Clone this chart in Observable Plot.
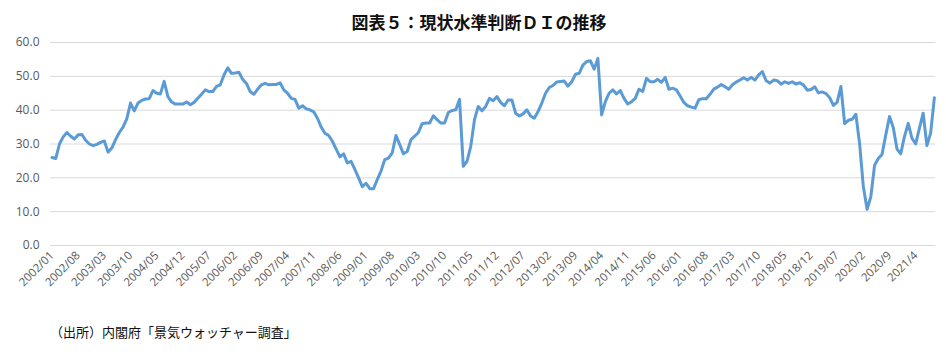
<!DOCTYPE html>
<html>
<head>
<meta charset="utf-8">
<script src="https://cdn.jsdelivr.net/npm/d3@7"></script>
<script src="https://cdn.jsdelivr.net/npm/@observablehq/plot@0.6"></script>
<style>
  html, body { margin: 0; padding: 0; background: #fff; }
  #wrap { width: 946px; height: 356px; position: relative; overflow: hidden; }
  #title { height: 32px; line-height: 44px; text-align: center; font-family: "Noto Sans CJK JP", sans-serif; font-weight: bold; font-size: 17px; color: #111; padding-left: 12px; }
  #caption { position: absolute; left: 50px; top: 322px; font-family: "Noto Sans CJK JP", sans-serif; font-size: 13px; color: #111; }
  svg { display: block; }
</style>
</head>
<body>
<div id="wrap">
  <div id="title">図表５：現状水準判断ＤＩの推移</div>
  <div id="chart"></div>
  <div id="caption">（出所）内閣府「景気ウォッチャー調査」</div>
</div>
<script>
// Monthly 現状水準判断DI, 2002/01 – 2021/09
const di = [
  26.0,25.7,30.0,32.1,33.4,32.3,31.5,32.7,32.8,31.1,30.0,29.5,
  29.9,30.5,30.9,27.6,28.8,31.3,33.4,35.0,37.4,42.1,39.8,42.1,
  42.9,43.3,43.4,45.8,45.0,44.8,48.5,44.0,42.4,41.8,41.8,41.8,
  42.4,41.6,42.3,43.5,44.7,46.0,45.5,45.5,47.0,47.5,50.4,52.5,
  50.9,51.0,51.2,49.1,47.9,45.5,44.7,46.2,47.5,47.9,47.5,47.6,
  47.6,48.1,46.0,45.0,43.5,43.2,40.6,41.3,40.4,40.1,39.5,37.6,
  35.0,33.2,32.5,30.8,28.5,26.2,27.1,24.4,24.9,22.5,20.0,17.4,
  18.4,16.8,16.8,19.5,22.0,25.4,25.8,27.4,32.5,29.8,27.1,27.8,
  31.3,32.3,33.4,36.0,36.2,36.2,38.3,37.2,36.2,36.2,39.3,39.9,
  40.1,43.2,23.4,24.9,29.3,37.2,41.1,39.8,41.1,43.5,42.8,44.0,
  42.3,41.3,43.0,43.0,39.1,38.3,38.9,40.1,38.3,37.6,39.6,42.1,
  45.0,46.7,47.3,48.3,48.5,48.6,47.1,48.4,50.6,50.9,53.3,54.4,
  54.6,52.1,55.3,38.6,42.5,45.0,46.0,44.8,45.8,43.5,41.8,42.5,
  43.5,46.2,45.5,49.4,48.4,48.4,49.1,48.2,49.7,46.2,46.5,46.0,
  44.2,42.3,41.3,40.9,40.6,43.1,43.4,43.4,44.7,46.2,46.8,47.6,
  46.9,46.2,47.5,48.3,48.9,49.6,48.9,49.7,48.9,50.4,51.4,48.7,
  48.0,48.9,48.7,47.7,48.4,47.9,48.4,47.7,48.1,47.4,45.9,46.1,
  46.9,45.1,45.4,44.9,43.7,41.4,42.4,47.0,36.0,37.0,37.3,38.8,
  30.1,17.4,10.7,14.4,23.7,25.7,26.9,32.7,38.1,34.9,28.5,27.1,
  32.2,36.1,31.7,30.0,34.7,39.1,29.5,33.2,43.7
];
// category labels shown on the axis (every 7th month)
const tickLabels = [
  "2002/01","2002/08","2003/03","2003/10","2004/05","2004/12","2005/07",
  "2006/02","2006/09","2007/04","2007/11","2008/06","2009/01","2009/08",
  "2010/03","2010/10","2011/05","2011/12","2012/07","2013/02","2013/09",
  "2014/04","2014/11","2015/06","2016/01","2016/08","2017/03","2017/10",
  "2018/05","2018/12","2019/07","2020/2","2020/9","2021/4"
];
const tickStep = 7;
const yTicks = [0, 10, 20, 30, 40, 50, 60];

const rows = di.map((v, i) => ({i, v}));
const tickIdx = tickLabels.map((_, k) => k * tickStep);

const chart = Plot.plot({
  width: 946,
  height: 270,
  marginTop: 10,
  marginBottom: 57,
  marginLeft: 50,
  marginRight: 11,
  style: {fontFamily: "'Open Sans', 'Noto Sans', sans-serif", background: "transparent"},
  x: {domain: [-0.4, di.length - 0.7]},
  y: {domain: [0, 60]},
  marks: [
    Plot.gridY(yTicks, {stroke: "#d9d9d9", strokeOpacity: 1, strokeWidth: 1}),
    Plot.axisY(yTicks, {tickSize: 0, tickPadding: 11, tickFormat: d => d.toFixed(1), fill: "#595959", fontSize: 12, label: null}),
    Plot.axisX(tickIdx, {tickSize: 0, tickPadding: 8, tickRotate: -45, tickFormat: d => tickLabels[d / tickStep], fill: "#595959", fontSize: 11.5, label: null}),
    Plot.lineY(rows, {x: "i", y: "v", stroke: "#5b9bd5", strokeWidth: 3, strokeLinejoin: "round"})
  ]
});
document.getElementById("chart").appendChild(chart);
</script>
</body>
</html>
